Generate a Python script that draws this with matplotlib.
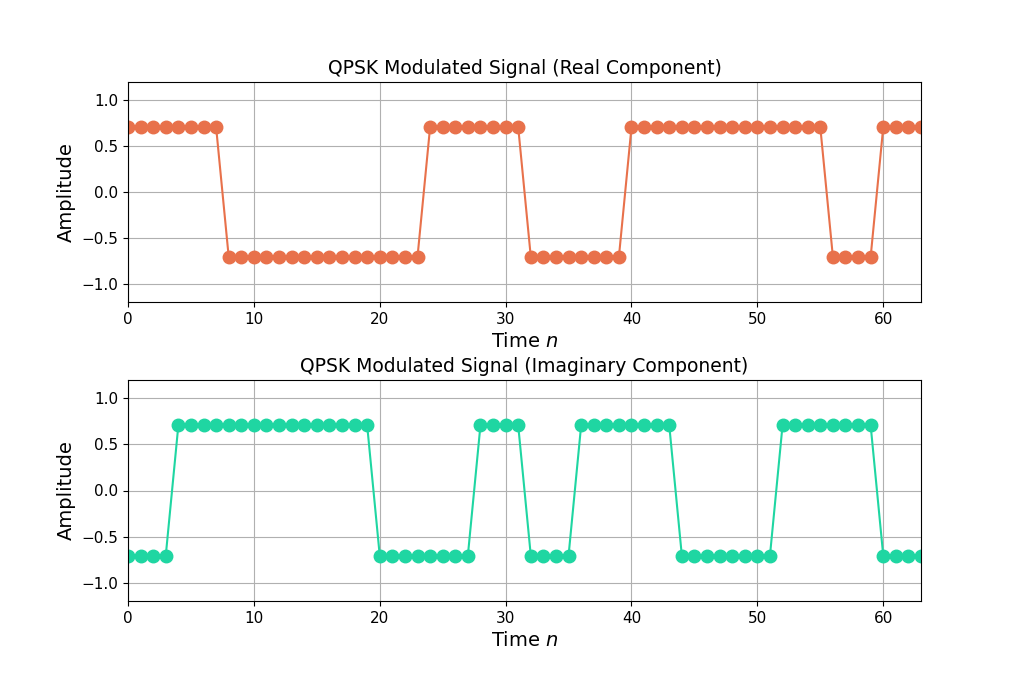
import matplotlib
matplotlib.use("Agg")
import matplotlib.pyplot as plt

a = 0.7071
b = -0.7071
real_values = [a,a,a,a,a,a,a,a, b,b,b,b,b,b,b,b, b,b,b,b,b,b,b,b,
               a,a,a,a,a,a,a,a, b,b,b,b,b,b,b,b,
               a,a,a,a,a,a,a,a, a,a,a,a,a,a,a,a, b,b,b,b, a,a,a,a]
imag_values = [b,b,b,b, a,a,a,a,a,a,a,a,a,a,a,a,a,a,a,a, b,b,b,b,b,b,b,b,
               a,a,a,a, b,b,b,b, a,a,a,a,a,a,a,a, b,b,b,b,b,b,b,b,
               a,a,a,a,a,a,a,a, b,b,b,b]
n = list(range(len(real_values)))

fig = plt.figure(figsize=(10.24, 6.76), dpi=100)
ax1 = fig.add_axes([128/1024, 1-302/676, 793/1024, 220/676])
ax2 = fig.add_axes([128/1024, 1-601/676, 793/1024, 221/676])

for ax, vals, col, title in [(ax1, real_values, "#E8714B", "QPSK Modulated Signal (Real Component)"),
                             (ax2, imag_values, "#1FD6A2", "QPSK Modulated Signal (Imaginary Component)")]:
    ax.plot(n, vals, "-o", color=col, markersize=9, linewidth=1.5)
    ax.set_xlim(0, 63)
    ax.set_ylim(-1.2, 1.2)
    ax.set_yticks([-1.0, -0.5, 0.0, 0.5, 1.0])
    ax.grid(True)
    ax.set_title(title, fontsize=13.5)
    ax.set_xlabel("Time $n$", fontsize=14)
    ax.set_ylabel("Amplitude", fontsize=14)
    ax.tick_params(labelsize=11)

fig.savefig("out.png", dpi=100)
